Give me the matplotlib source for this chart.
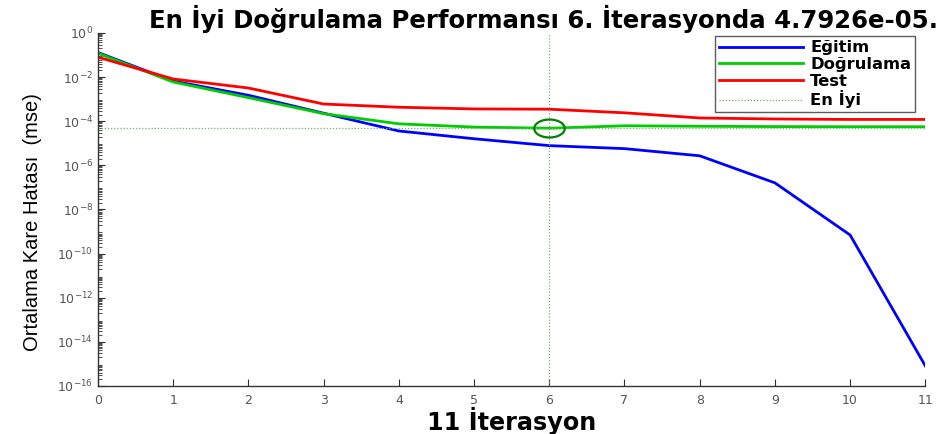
import numpy as np
import matplotlib
matplotlib.use("Agg")
import matplotlib.pyplot as plt
from matplotlib.path import Path
from matplotlib.ticker import LogLocator, NullFormatter

# Training record values per iteration
iterations = list(range(12))
egitim = [1.3e-1, 6.6e-3, 1.5e-3, 2.3e-4, 3.6e-5, 1.6e-5, 7.8e-6, 5.7e-6, 2.7e-6, 1.6e-7, 6.9e-10, 8.0e-16]
dogrulama = [1.2e-1, 6.0e-3, 1.17e-3, 2.2e-4, 7.6e-5, 5.4e-5, 4.7926e-5, 6.2e-5, 5.9e-5, 5.7e-5, 5.6e-5, 5.6e-5]
test = [8.0e-2, 8.2e-3, 3.2e-3, 6.0e-4, 4.3e-4, 3.6e-4, 3.5e-4, 2.4e-4, 1.4e-4, 1.26e-4, 1.2e-4, 1.2e-4]
best_epoch = 6
best_perf = 4.7926e-05
xticks = list(range(12))

fig = plt.figure(figsize=(9.51, 4.34), dpi=100)
ax = fig.add_axes([0.103, 0.111, 0.870, 0.813])

blue = (0, 0, 1)
green = (0, 0.8, 0)
red = (1, 0, 0)

ax.semilogy(iterations, egitim, color=blue, lw=2.0, label="Eğitim")
ax.semilogy(iterations, dogrulama, color=green, lw=2.0, label="Doğrulama")
ax.semilogy(iterations, test, color=red, lw=2.0, label="Test")
ax.axvline(best_epoch, color=(0.45, 0.7, 0.45), lw=0.9, ls=(0, (1, 1.5)), label="En İyi")
ax.axhline(best_perf, color=(0.45, 0.7, 0.45), lw=0.9, ls=(0, (1, 1.5)))

# flattened circle around the best validation point
theta = np.linspace(0, 2 * np.pi, 60)
ellipse = Path(np.column_stack([1.7 * np.cos(theta), np.sin(theta)]))
ax.plot([best_epoch], [best_perf], marker=ellipse, ms=22, mfc="none",
        mec=(0, 0.5, 0), mew=1.6, ls="none")

ax.set_xlim(0, 11)
ax.set_ylim(1e-16, 1)
ax.set_xticks(xticks)
ax.set_yticks([10.0 ** k for k in range(0, -17, -2)])
ax.yaxis.set_minor_locator(LogLocator(base=10, subs=np.arange(2, 10), numticks=40))
ax.yaxis.set_minor_formatter(NullFormatter())

for side in ("top", "right"):
    ax.spines[side].set_visible(False)
for side in ("left", "bottom"):
    ax.spines[side].set_color("#333333")
    ax.spines[side].set_linewidth(1.0)

ax.tick_params(axis="both", which="major", direction="in", length=5, color="#333333",
               labelcolor="#555555", labelsize=9)
ax.tick_params(axis="y", which="minor", direction="in", length=3, color="#333333")
ax.tick_params(axis="x", pad=6)

ax.set_title("En İyi Doğrulama Performansı 6. İterasyonda 4.7926e-05.",
             fontsize=17.6, fontweight="bold", pad=3, x=0.538)
ax.set_xlabel("11 İterasyon", fontsize=17.2, fontweight="bold", labelpad=0)
ax.set_ylabel("Ortalama Kare Hatası  (mse)", fontsize=14.5,
              family=["Liberation Sans Narrow", "Liberation Sans"])
ax.yaxis.set_label_coords(-0.068, 0.465)

leg = ax.legend(loc="upper right", bbox_to_anchor=(0.992, 1.0), frameon=True, fancybox=False,
                edgecolor="#333333", handlelength=5.1, handletextpad=0.45,
                borderpad=0.25, labelspacing=0.1, borderaxespad=0.2,
                prop={"weight": "bold", "size": 11.8})
leg.get_frame().set_linewidth(1.0)

fig.savefig("out.png", dpi=100)
